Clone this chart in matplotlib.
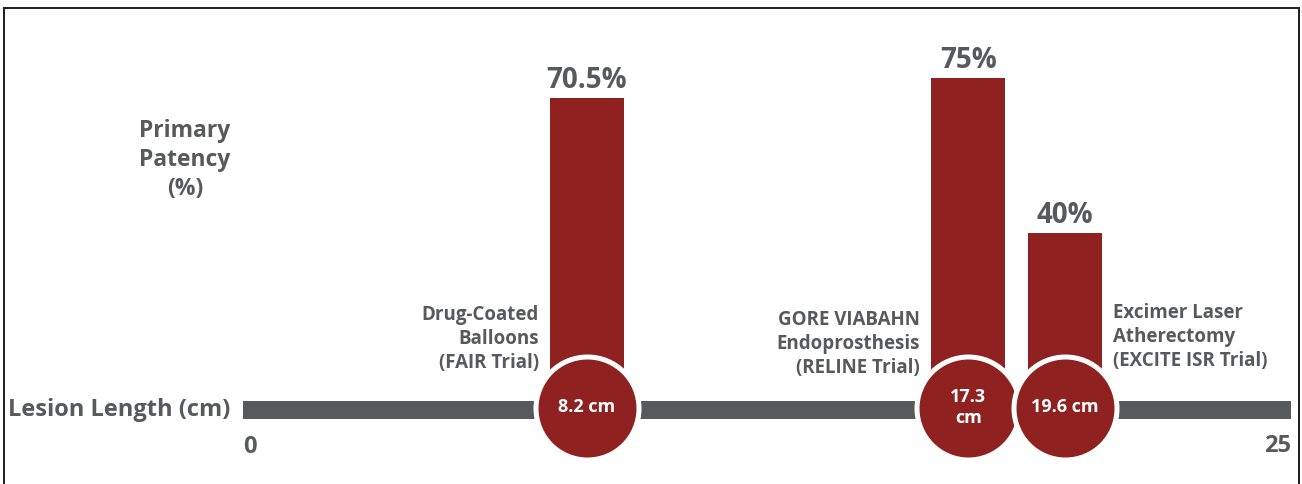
import matplotlib
matplotlib.use("Agg")
import matplotlib.pyplot as plt
from matplotlib.patches import Rectangle

# ---- data ----
lesion_cm = [8.2, 17.3, 19.6]
patency_pct = [70.5, 75, 40]
pct_labels = ["70.5%", "75%", "40%"]
circle_labels = ["8.2 cm", "17.3\ncm", "19.6 cm"]
device_labels = ["Drug-Coated\nBalloons\n(FAIR Trial)",
                 "GORE VIABAHN\nEndoprosthesis\n(RELINE Trial)",
                 "Excimer Laser\nAtherectomy\n(EXCITE ISR Trial)"]
axis_min, axis_max = 0, 25

# ---- style ----
RED = "#8f2121"
GRAY = "#58595b"
FONT = "Open Sans"
W, H, DPI = 1302, 484, 100
label_side = ["right", "right", "left"]
label_dy = [16.0, 14.9, 16.5]   # vertical centre of device labels (in % units)

plt.rcParams['font.family'] = [FONT, 'DejaVu Sans']

fig = plt.figure(figsize=(W / DPI, H / DPI), dpi=DPI)
ax = fig.add_axes([0, 0, 1, 1])
ax.set_axis_off()

# pixel mapping: 0 cm -> x=243px, 25 cm -> x=1291px ; 0% -> y=410px, 4.43 px per %
px_per_cm = (1291 - 243) / 25
px_per_pct = 4.43
ax.set_xlim(-243 / px_per_cm, (W - 243) / px_per_cm)
ax.set_ylim(-(H - 410) / px_per_pct, 410 / px_per_pct)

pt = 72 / DPI  # points per pixel

# axis bar
ax.plot([axis_min, axis_max], [0, 0], color=GRAY, lw=18 * pt,
        solid_capstyle='butt', zorder=1)

# bars
bar_w = 74 / px_per_cm
ax.bar(lesion_cm, patency_pct, width=bar_w, bottom=0, color=RED, zorder=2)

# circles
circle_y = 2.5 / px_per_pct
ax.scatter(lesion_cm, [circle_y] * len(lesion_cm), s=(103 * pt) ** 2,
           facecolor=RED, edgecolor='white', linewidth=5 * pt, zorder=3)

for x, v, pl, cl, dl, side, dy in zip(lesion_cm, patency_pct, pct_labels,
                                      circle_labels, device_labels,
                                      label_side, label_dy):
    ax.annotate(pl, (x, v), xytext=(0, 3 * pt), textcoords='offset points',
                ha='center', va='bottom', fontsize=20, fontweight='bold',
                color=GRAY)
    ax.text(x, circle_y, cl, ha='center', va='center', fontsize=13,
            fontweight='bold', color='white', linespacing=1.15, zorder=4)
    off = 48 / px_per_cm
    if side == 'right':
        ax.text(x - off, dy, dl, ha='right', va='center', fontsize=13.5,
                fontweight='bold', color=GRAY, linespacing=1.25)
    else:
        ax.text(x + off, dy, dl, ha='left', va='center', fontsize=13.5,
                fontweight='bold', color=GRAY, linespacing=1.25)

# tick labels
ax.text(axis_min, -37 / px_per_pct, str(axis_min), ha='left', va='center',
        fontsize=17, fontweight='bold', color=GRAY)
ax.text(axis_max, -36 / px_per_pct, str(axis_max), ha='right', va='center',
        fontsize=17, fontweight='bold', color=GRAY)

# axis titles
ax.text(-13 / px_per_cm, 0, "Lesion Length (cm)", ha='right', va='center',
        fontsize=17, fontweight='bold', color=GRAY)
ax.text((185 - 243) / px_per_cm, (410 - 160) / px_per_pct,
        "Primary\nPatency\n(%)", ha='center', va='center', fontsize=16.5,
        fontweight='bold', color=GRAY, linespacing=1.3)

# frame
fig.add_artist(Rectangle((4 / W, -0.05), (1299 - 4) / W, 1.05 - 8 / H,
                         transform=fig.transFigure, fill=False,
                         edgecolor='#222222', lw=2 * pt))

fig.savefig("out.png", dpi=DPI)
